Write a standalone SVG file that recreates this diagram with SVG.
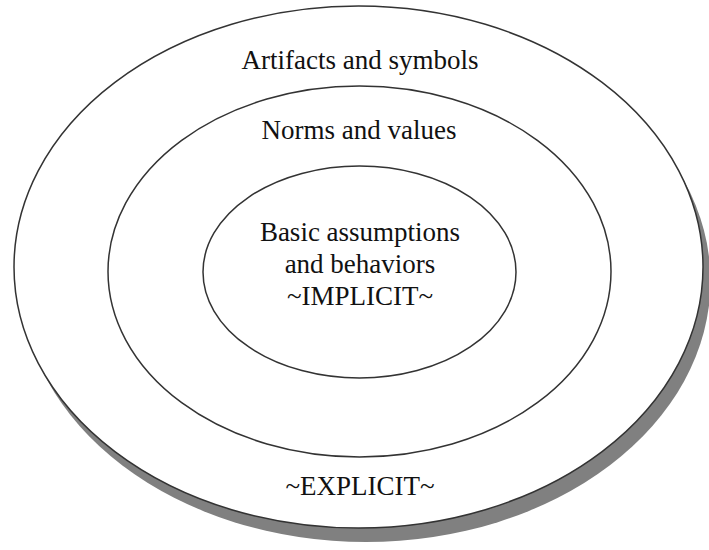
<svg xmlns="http://www.w3.org/2000/svg" width="709" height="550" viewBox="0 0 709 550">
<style>
.ring{fill:#fff;stroke:#333;stroke-width:1.5}
.lbl{font-family:"Liberation Serif","Times New Roman",serif;font-size:27px;fill:#111;text-anchor:middle}
</style>
<rect width="709" height="550" fill="#fff"/>
<g id="outer">
<ellipse cx="366" cy="281" rx="344.5" ry="261" fill="#808080"/>
<ellipse class="ring" cx="358.5" cy="267" rx="344.5" ry="261"/>
<text class="lbl" x="360" y="69">Artifacts and symbols</text>
<text class="lbl" x="360" y="495">~EXPLICIT~</text>
</g>
<g id="middle">
<ellipse class="ring" cx="359.5" cy="271.5" rx="251.5" ry="185.5"/>
<text class="lbl" x="359" y="139">Norms and values</text>
</g>
<g id="inner">
<ellipse class="ring" cx="359.5" cy="272" rx="156.5" ry="106"/>
<text class="lbl" x="360" y="241">Basic assumptions</text>
<text class="lbl" x="360" y="273">and behaviors</text>
<text class="lbl" x="360" y="305">~IMPLICIT~</text>
</g>
<g id="connectors"/>
</svg>
